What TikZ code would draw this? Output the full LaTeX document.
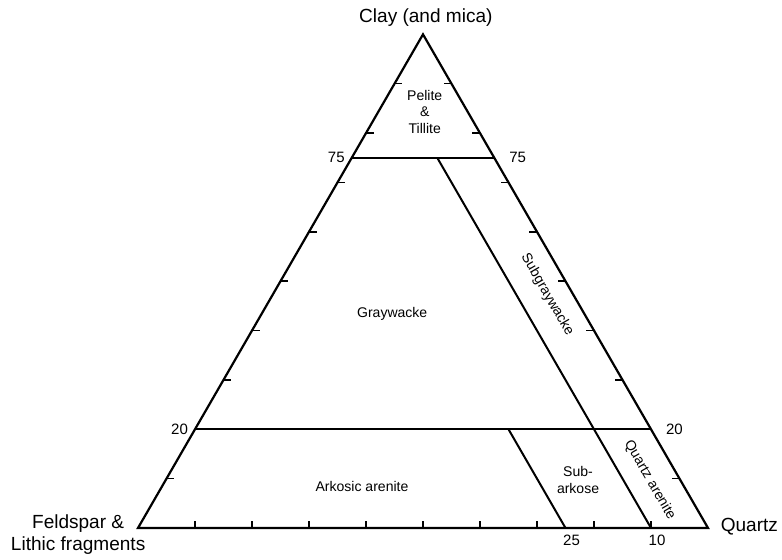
\documentclass[tikz,border=0pt]{standalone}
\usepackage{fontspec}
\setmainfont{Liberation Sans}
\usetikzlibrary{calc}
\tikzset{
  edge/.style={line width=1.1pt},
  bound/.style={line width=1pt},
  tick/.style={line width=0.7pt},
  corner/.style={font=\fontsize{9.5}{11}\selectfont},
  rock/.style={font=\fontsize{7}{8.3}\selectfont, align=center},
  val/.style={font=\fontsize{7.5}{9}\selectfont}
}
\begin{document}
\begin{tikzpicture}
  \useasboundingbox (-2.421,-0.561) rectangle (11.298,9.263);
  \coordinate (F) at (0,0);
  \coordinate (Q) at (10,0);
  \coordinate (C) at (5,8.66);
  \draw[edge] (F) -- (Q) -- (C) -- cycle;
  % ticks every 10 %
  \foreach \i [evaluate=\i as \t using \i/10] in {1,...,9} {
    \draw[tick] ($(F)!\t!(C)$) -- ++(0.14,0);
    \draw[tick] ($(Q)!\t!(C)$) -- ++(-0.14,0);
    \draw[tick] ($(F)!\t!(Q)$) -- ++(0,0.13);
  }
  % field boundaries
  \coordinate (l75) at ($(F)!.75!(C)$);
  \coordinate (r75) at ($(Q)!.75!(C)$);
  \coordinate (l20) at ($(F)!.2!(C)$);
  \coordinate (r20) at ($(Q)!.2!(C)$);
  \coordinate (q25) at ($(F)!.75!(Q)$);
  \coordinate (q10) at ($(F)!.9!(Q)$);
  \coordinate (t10) at ($(l75)!.6!(r75)$);
  \coordinate (t25) at ($(l20)!.6875!(r20)$);
  \draw[bound] (l75) -- (r75);
  \draw[bound] (l20) -- (r20);
  \draw[bound] (t10) -- (q10);
  \draw[bound] (t25) -- (q25);
  % corners
  \node[corner] (clay) at (5.05,8.95) {Clay (and mica)};
  \node[corner, align=center] (feld) at (-1.05,-0.12) {Feldspar \&\\Lithic fragments};
  \node[corner, anchor=west] (quartz) at (10.1,0.02) {Quartz};
  % values
  \node[val, left] (v75l) at (l75) {75};
  \node[val, right=4pt] (v75r) at (r75) {75};
  \node[val, left] (v20l) at (l20) {20};
  \node[val, right=4pt] (v20r) at (r20) {20};
  \node[val, below, xshift=3pt] (v25) at (q25) {25};
  \node[val, below, xshift=3pt] (v10) at (q10) {10};
  % fields
  \node[rock] (pelite) at (5.03,7.3) {Pelite\\\&\\Tillite};
  \node[rock] (gw) at (4.46,3.75) {Graywacke};
  \node[rock] (ark) at (3.93,0.72) {Arkosic arenite};
  \node[rock] (subark) at (7.72,0.84) {Sub-\\arkose};
  \node[rock, rotate=-60] (subgw) at (7.18,4.09) {Subgraywacke};
  \node[rock, rotate=-60] (qa) at (8.98,0.84) {Quartz arenite};
\end{tikzpicture}
\end{document}
